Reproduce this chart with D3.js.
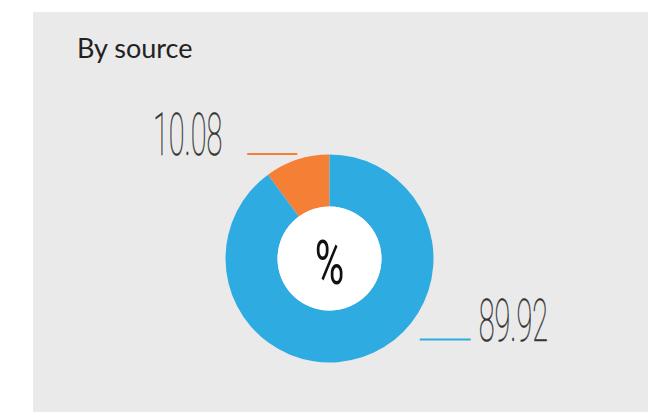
<!DOCTYPE html>
<html>
<head>
<meta charset="utf-8">
<script src="https://cdn.jsdelivr.net/npm/d3@7.9.0/dist/d3.min.js"></script>
<style>
  body { margin: 0; background: #fff; }
  svg { display: block; }
</style>
</head>
<body>
<svg id="chart" width="661" height="412"></svg>
<script>
// data
const sources = ['Other', 'Main'];
const shares = [10.08, 89.92];
const colours = ['#f57f34', '#2eace2'];
const title = 'By source';
const centreLabel = '%';

const svg = d3.select('#chart');

// panel
svg.append('rect')
  .attr('x', 33).attr('y', 12)
  .attr('width', 615).attr('height', 400)
  .attr('fill', '#eaeaea');

svg.append('text')
  .attr('x', 77).attr('y', 57.5)
  .attr('font-family', 'Lato, sans-serif')
  .attr('font-size', 27)
  .attr('fill', '#222')
  .text(title);

const cx = 329.5, cy = 258.5;
const outerR = 104, innerR = 52;

// orange slice ends at 12 o'clock, so shift start back by its share
const start = -shares[0] / 100 * 2 * Math.PI;
const pie = d3.pie().sort(null).startAngle(start).endAngle(start + 2 * Math.PI);
const arcs = pie(shares);
const arc = d3.arc().innerRadius(innerR).outerRadius(outerR);

const g = svg.append('g').attr('transform', `translate(${cx},${cy})`);

g.selectAll('path')
  .data(arcs)
  .join('path')
  .attr('d', arc)
  .attr('fill', (d, i) => colours[i]);

g.append('circle').attr('r', innerR).attr('fill', '#fff');

g.append('text')
  .attr('transform', 'translate(0,25) scale(0.66,1)')
  .attr('text-anchor', 'middle')
  .attr('font-family', 'Roboto, sans-serif')
  .attr('font-size', 61)
  .attr('fill', '#111')
  .text(centreLabel);

// label layout: leader line then number, offsets from a point just outside the ring
const labelArc = d3.arc().innerRadius(110).outerRadius(110);
const layout = [
  { dx: 2, dy: 0, side: 'left', len: 50, gap: 25 },
  { dx: 107, dy: -23.5, side: 'right', len: 51, gap: 8 }
];

arcs.forEach((d, i) => {
  const [px, py] = labelArc.centroid(d);
  const L = layout[i];
  const x2 = px + L.dx, y = py + L.dy;
  const x1 = x2 - L.len;
  g.append('line')
    .attr('x1', x1).attr('x2', x2)
    .attr('y1', y).attr('y2', y)
    .attr('stroke', colours[i])
    .attr('stroke-width', 2);
  const tx = L.side === 'left' ? x1 - L.gap : x2 + L.gap;
  g.append('text')
    .attr('transform', `translate(${tx},${y + 1.5}) scale(0.48,1)`)
    .attr('text-anchor', L.side === 'left' ? 'end' : 'start')
    .attr('font-family', 'Roboto, sans-serif')
    .attr('font-weight', 100)
    .attr('font-size', 60)
    .attr('fill', '#333')
    .attr('stroke', '#333')
    .attr('stroke-width', 0.5)
    .text(shares[i].toFixed(2));
});
</script>
</body>
</html>
